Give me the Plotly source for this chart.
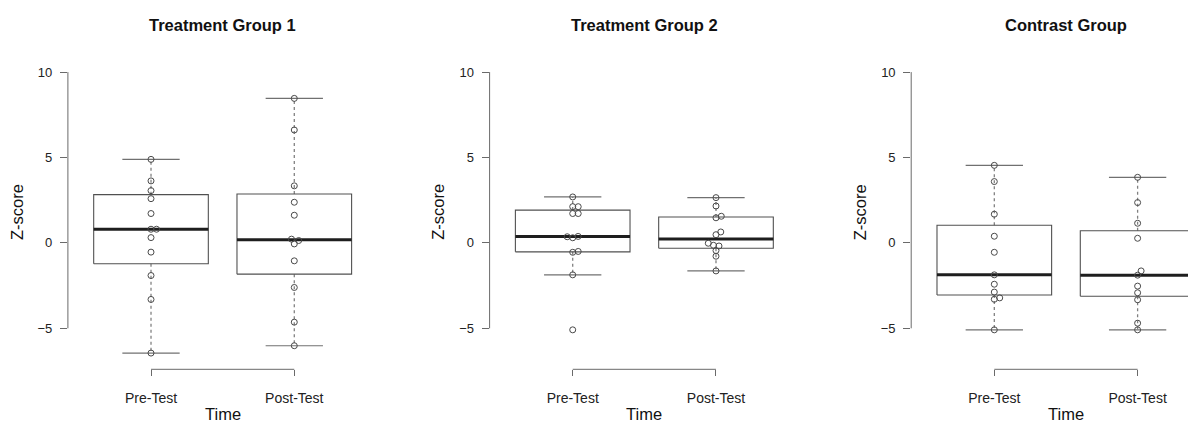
import math
import plotly.graph_objects as go

# ---------------- data ----------------
categories = ["Pre-Test", "Post-Test"]
panel_titles = ["Treatment Group 1", "Treatment Group 2", "Contrast Group"]
y_ticks = [-5, 0, 5, 10]

tg1_pre = [4.89, 3.63, 3.06, 2.59, 1.72, 0.80, 0.80, 0.31, -0.54, -1.91, -3.31, -6.45]
tg1_post = [8.46, 6.61, 3.34, 2.38, 1.62, -0.06, 0.14, 0.22, -1.05, -2.61, -4.64, -6.02]
tg2_pre = [2.69, 2.12, 2.12, 1.72, 1.72, 0.30, 0.38, 0.36, -0.55, -0.50, -1.87, -5.09]
tg2_post = [2.65, 2.16, 1.47, 1.56, 0.48, 0.64, -0.78, -0.45, -0.18, -0.14, -0.02, -1.64]
cg_pre = [4.54, 3.59, 1.68, 0.39, -0.55, -1.87, -2.42, -2.88, -3.30, -3.22, -5.09]
cg_post = [3.84, 2.36, 1.15, 0.27, -1.89, -1.64, -2.53, -2.92, -3.33, -4.70, -5.09]

panels = [(tg1_pre, tg1_post), (tg2_pre, tg2_post), (cg_pre, cg_post)]

# ---------------- helpers ----------------
def fivenum(v):
    s = sorted(v)
    n = len(s)
    n4 = math.floor((n + 3) / 2) / 2
    d = [1, n4, (n + 1) / 2, n + 1 - n4, n]
    return [0.5 * (s[math.floor(x) - 1] + s[math.ceil(x) - 1]) for x in d]


def box_stats(v):
    f = fivenum(v)
    q1, med, q3 = f[1], f[2], f[3]
    iqr = q3 - q1
    lo = min(x for x in v if x >= q1 - 1.5 * iqr)
    hi = max(x for x in v if x <= q3 + 1.5 * iqr)
    return q1, med, q3, lo, hi


XPX, YPX, DIAM = 143.3, 17.1, 5.5  # pixel scales used only to spread overlapping points


def swarm(vals):
    placed, offs = [], []
    for v in vals:
        y = v * YPX
        k = 0
        found = None
        while found is None:
            cands = [0.0] if k == 0 else [k * 0.1, -k * 0.1]
            for c in cands:
                if all((c - px) ** 2 + (y - py) ** 2 >= DIAM ** 2 for px, py in placed):
                    found = c
                    break
            k += 1
        placed.append((found, y))
        offs.append(found / XPX)
    return offs


# ---------------- figure ----------------
W, H = 1188, 423
fig = go.Figure()

BOXW = 0.4
CAPW = 0.2
FONT = "Liberation Sans, Arial, Helvetica, sans-serif"
x_domains = [[67.9 / W, 377.4 / W], [489.6 / W, 799.1 / W], [911.2 / W, 1.0]]
x_ranges = [[0.42, 2.58], [0.42, 2.58], [0.42, 0.42 + (W - 911.2) / 143.3]]
y_domain = [(H - 369.3) / H, (H - 55) / H]
y_range = [-7.4, 11.0]

for p, (pre, post) in enumerate(panels):
    xa = "x" if p == 0 else f"x{p + 1}"
    ya = "y" if p == 0 else f"y{p + 1}"
    for i, vals in enumerate((pre, post)):
        c = i + 1
        q1, med, q3, lo, hi = box_stats(vals)
        # whiskers (dotted)
        fig.add_trace(go.Scatter(
            x=[c, c, None, c, c], y=[q3, hi, None, q1, lo], mode="lines",
            line=dict(color="#808080", width=1.3, dash="dot"),
            xaxis=xa, yaxis=ya, showlegend=False, hoverinfo="skip"))
        # caps
        fig.add_trace(go.Scatter(
            x=[c - CAPW, c + CAPW, None, c - CAPW, c + CAPW], y=[hi, hi, None, lo, lo],
            mode="lines", line=dict(color="#707070", width=1.2),
            xaxis=xa, yaxis=ya, showlegend=False, hoverinfo="skip"))
        # box
        fig.add_trace(go.Scatter(
            x=[c - BOXW, c + BOXW, c + BOXW, c - BOXW, c - BOXW],
            y=[q1, q1, q3, q3, q1], mode="lines",
            line=dict(color="#505050", width=1.1),
            xaxis=xa, yaxis=ya, showlegend=False, hoverinfo="skip"))
        # median
        fig.add_trace(go.Scatter(
            x=[c - BOXW, c + BOXW], y=[med, med], mode="lines",
            line=dict(color="#1e1e1e", width=3),
            xaxis=xa, yaxis=ya, showlegend=False, hoverinfo="skip"))
        # points
        offs = swarm(vals)
        fig.add_trace(go.Scatter(
            x=[c + o for o in offs], y=vals, mode="markers",
            marker=dict(symbol="circle-open", size=6, color="#4a4a4a", line=dict(width=1)),
            xaxis=xa, yaxis=ya, showlegend=False, name=categories[i]))

    axis_common = dict(showgrid=False, zeroline=False, showline=False, ticks="outside",
                       tickcolor="#6a6a6a", tickwidth=1, fixedrange=True)
    fig.update_layout(**{
        ("xaxis" if p == 0 else f"xaxis{p + 1}"): dict(
            domain=x_domains[p], range=x_ranges[p], anchor=ya,
            tickvals=[1, 2], ticktext=categories, ticklen=6, ticklabelstandoff=10,
            tickfont=dict(family=FONT, size=14, color="#222"), **axis_common),
        ("yaxis" if p == 0 else f"yaxis{p + 1}"): dict(
            domain=y_domain, range=y_range, anchor=xa,
            tickvals=y_ticks, ticktext=[str(t) if t >= 0 else "\u2212" + str(-t) for t in y_ticks],
            ticklen=7, ticklabelstandoff=5,
            tickfont=dict(family=FONT, size=13, color="#222"), **axis_common),
    })

    # R-style axis lines spanning only the tick range
    fig.add_shape(type="line", xref=f"{xa} domain", yref=ya, x0=0, x1=0, y0=-5, y1=10,
                  line=dict(color="#6a6a6a", width=1))
    fig.add_shape(type="line", xref=xa, yref=f"{ya} domain", x0=1, x1=2, y0=0, y1=0,
                  line=dict(color="#6a6a6a", width=1))

    # titles and axis labels
    fig.add_annotation(text=panel_titles[p], xref=xa, x=1.5, yref="paper", y=1 - 25.2 / H,
                       xanchor="center", yanchor="middle", showarrow=False,
                       font=dict(family=FONT, size=16.5, color="#111", weight="bold"))
    fig.add_annotation(text="Z-score", xref=f"{xa} domain", x=0, xshift=-51,
                       yref=f"{ya} domain", y=0.5, textangle=-90,
                       xanchor="center", yanchor="middle", showarrow=False,
                       font=dict(family=FONT, size=16.5, color="#111"))
    fig.add_annotation(text="Time", xref=xa, x=1.5, yref=f"{ya} domain", y=0, yshift=-45,
                       xanchor="center", yanchor="middle", showarrow=False,
                       font=dict(family=FONT, size=16.5, color="#111"))

fig.update_layout(width=W, height=H, margin=dict(l=0, r=0, t=0, b=0),
                  paper_bgcolor="white", plot_bgcolor="white", showlegend=False)

fig.write_html("out.html")
